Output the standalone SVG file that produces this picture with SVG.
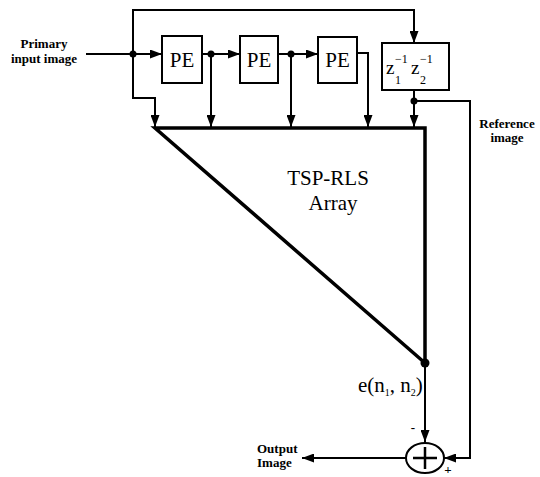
<svg xmlns="http://www.w3.org/2000/svg" width="540" height="477" viewBox="0 0 540 477">
<defs>
<marker id="ah" markerWidth="12" markerHeight="9" refX="12" refY="4.5" orient="auto" markerUnits="userSpaceOnUse">
<path d="M0,0 L12,4.5 L0,9 Z" fill="#000"/>
</marker>
<style>
.w{fill:none;stroke:#000;stroke-width:2}
.a{fill:none;stroke:#000;stroke-width:2;marker-end:url(#ah)}
.box{fill:#fff;stroke:#000;stroke-width:2}
.lb{font-family:"Liberation Serif",serif;font-weight:bold;font-size:13px;fill:#000}
.pe{font-family:"Liberation Serif",serif;font-size:21px;fill:#000}
.big{font-family:"Liberation Serif",serif;font-size:21px;fill:#000}
.zz{font-family:"Liberation Serif",serif;fill:#000}
.dot{fill:#000}
</style>
</defs>
<rect width="540" height="477" fill="#fff"/>
<g id="connectors">
<path class="a" d="M133,54 L133,10 L414,10 L414,43"/>
<path class="a" d="M133,54 L133,98 L155,98 L155,127"/>
<path class="a" d="M86,54 L162,54"/>
<path class="a" d="M202,54 L240,54"/>
<path class="a" d="M211,54 L211,127"/>
<path class="a" d="M278,54 L318,54"/>
<path class="a" d="M291,54 L291,127"/>
<path class="a" d="M357,53 L368,53 L368,127"/>
<path class="a" d="M414,90 L414,127"/>
<path class="a" d="M414,101 L470,101 L470,458 L444,458"/>
<path class="a" d="M425,363 L425,442"/>
<path class="a" d="M406,458 L302,458"/>
<circle class="dot" cx="133" cy="54" r="3.5"/>
<circle class="dot" cx="211" cy="54" r="3.5"/>
<circle class="dot" cx="291" cy="54" r="3.5"/>
<circle class="dot" cx="414" cy="101" r="3.5"/>
</g>
<g id="input-label">
<text class="lb" x="44" y="48" text-anchor="middle">Primary</text>
<text class="lb" x="44" y="63" text-anchor="middle">input image</text>
</g>
<g id="pe1">
<rect class="box" x="162" y="36" width="40" height="47"/>
<text class="pe" x="182" y="67" text-anchor="middle">PE</text>
</g>
<g id="pe2">
<rect class="box" x="240" y="36" width="38" height="47"/>
<text class="pe" x="259" y="67" text-anchor="middle">PE</text>
</g>
<g id="pe3">
<rect class="box" x="318" y="37" width="39" height="46"/>
<text class="pe" x="337.5" y="67" text-anchor="middle">PE</text>
</g>
<g id="delay">
<rect class="box" x="382" y="43" width="67" height="47"/>
<text class="zz" font-size="19" x="386" y="74">z</text>
<text class="zz" font-size="12" x="395" y="84">1</text>
<text class="zz" font-size="12" x="395" y="63">−1</text>
<text class="zz" font-size="19" x="411" y="74">z</text>
<text class="zz" font-size="12" x="420" y="84">2</text>
<text class="zz" font-size="12" x="420" y="63">−1</text>
</g>
<g id="array">
<path d="M155,128 L425,128 L425,363 Z" fill="none" stroke="#000" stroke-width="3.5" stroke-linejoin="miter"/>
<circle class="dot" cx="425" cy="363" r="4.5"/>
<text class="big" x="328" y="185" text-anchor="middle">TSP-RLS</text>
<text class="big" x="333" y="210" text-anchor="middle">Array</text>
</g>
<g id="ref-label">
<text class="lb" x="507" y="128" text-anchor="middle">Reference</text>
<text class="lb" x="507" y="142" text-anchor="middle">image</text>
</g>
<g id="error-label">
<text class="big" font-size="15" x="358" y="392">e(n<tspan font-size="10" dy="4">1</tspan><tspan dy="-4">, n</tspan><tspan font-size="10" dy="4">2</tspan><tspan dy="-4">)</tspan></text>
<text class="lb" x="413" y="432" text-anchor="middle">-</text>
</g>
<g id="sum">
<ellipse cx="425" cy="458" rx="19" ry="15" fill="#fff" stroke="#000" stroke-width="2"/>
<path d="M413,458 L437,458 M425,447 L425,469" stroke="#000" stroke-width="2.5"/>
<text class="lb" font-size="12" x="448" y="474" text-anchor="middle">+</text>
</g>
<g id="output-label">
<text class="lb" x="257" y="453">Output</text>
<text class="lb" x="257" y="467">Image</text>
</g>
</svg>
